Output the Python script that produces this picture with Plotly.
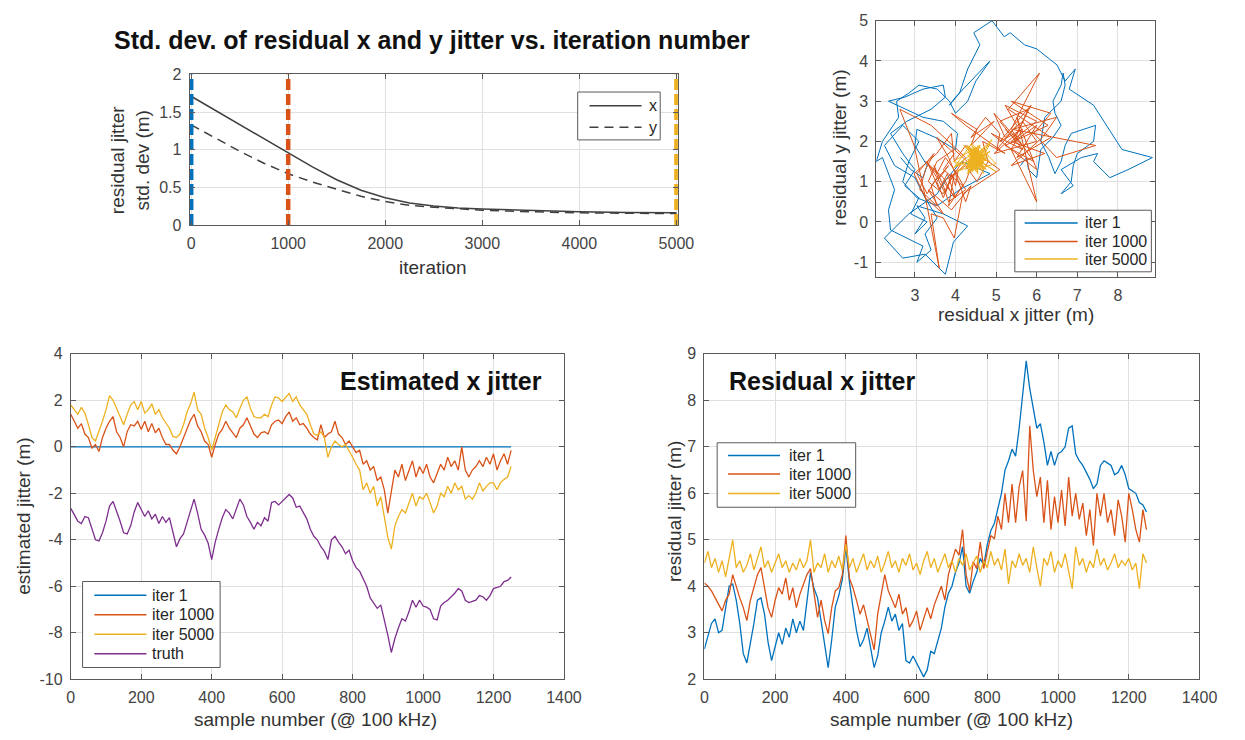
import plotly.graph_objects as go

# ---------------- data ----------------
# top-left: std. dev. of residual jitter vs iteration
iterations = [0, 250, 500, 750, 1000, 1250, 1500, 1750, 2000, 2250, 2500, 2750, 3000, 3500, 4000, 4500, 5000]
std_x = [1.71, 1.52, 1.34, 1.14, 0.95, 0.77, 0.60, 0.46, 0.36, 0.29, 0.25, 0.225, 0.21, 0.19, 0.175, 0.165, 0.16]
std_y = [1.33, 1.15, 0.98, 0.82, 0.68, 0.57, 0.47, 0.38, 0.31, 0.26, 0.235, 0.21, 0.195, 0.175, 0.16, 0.155, 0.15]
marker_iters = [1, 1000, 5000]

# bottom plots: sample index
samples = list(range(0, 1251, 10))

truth = [
    -2.65, -2.9, -3.2, -3.3, -3.0, -3.05, -3.5, -4.0, -4.05, -3.7,
    -3.2, -2.55, -2.35, -2.75, -3.2, -3.7, -3.75, -3.4, -2.8, -2.4,
    -2.7, -3.0, -2.75, -3.1, -2.9, -3.3, -3.0, -3.25, -3.05, -3.7,
    -4.3, -3.95, -3.75, -3.25, -2.7, -2.25, -2.85, -3.55, -3.8, -4.15,
    -4.85, -4.1, -3.55, -3.05, -2.7, -2.85, -3.1, -2.7, -2.25, -2.5,
    -3.0, -3.25, -3.55, -3.25, -3.4, -3.05, -3.2, -2.4, -2.35, -2.5,
    -2.35, -2.2, -2.05, -2.2, -2.6, -2.55, -2.85, -3.1, -3.55, -3.85,
    -4.0, -4.3, -4.5, -4.85, -4.0, -3.85, -4.1, -4.3, -4.6, -4.45,
    -4.9, -5.2, -5.35, -5.7, -6.0, -6.5, -6.7, -6.95, -6.8, -7.4,
    -8.1, -8.85, -8.25, -7.8, -7.4, -7.5, -7.1, -6.6, -6.9, -6.6,
    -6.85, -6.9, -7.0, -7.4, -7.45, -6.85, -6.7, -6.6, -6.45, -6.3,
    -6.1, -6.2, -6.6, -6.7, -6.65, -6.6, -6.4, -6.45, -6.6, -6.4,
    -6.1, -6.05, -6.0, -5.8, -5.75, -5.6]

est_iter1 = [0.0] * len(samples)

est_iter1000 = [
    1.4, 1.1, 0.8, 1.0, 0.55, 0.4, -0.05, 0.1, -0.2, 0.4,
    0.8, 1.1, 1.3, 0.65, 0.4, 0.0, 0.65, 0.95, 0.9, 1.1,
    0.75, 1.1, 0.65, 1.0, 0.6, 0.8, 0.4, 0.1, 0.1, -0.15,
    -0.3, 0.0, 0.4, 0.8, 1.15, 1.4, 0.9, 0.65, 0.25, 0.1,
    -0.45, 0.1, 0.55, 0.75, 1.1, 0.8, 0.6, 0.4, 0.8, 0.95,
    1.25, 0.9, 0.55, 0.4, 0.6, 0.65, 0.55, 0.95, 1.1, 1.15,
    1.0, 1.3, 1.5, 1.1, 1.25, 0.95, 1.0, 0.8, 0.55, 0.4,
    0.3, 0.95, 0.4, 0.55, 0.65, 1.1, 0.55, 0.4, 0.1, 0.25,
    0.0, -0.25, -0.15, -0.75, -0.6, -1.0, -0.85, -1.45, -1.3, -1.85,
    -2.85, -2.0, -1.0, -1.3, -0.75, -1.45, -1.0, -0.6, -1.3, -0.85,
    -1.15, -0.75, -1.3, -1.55, -1.15, -0.75, -1.0, -0.45, -0.85, -0.6,
    -1.0, 0.0, -1.0, -1.3, -1.0, -0.85, -0.6, -0.85, -0.45, -0.75,
    -0.3, -1.0, -0.6, -0.3, -0.75, -0.15]

est_iter5000 = [
    1.8, 1.6, 1.4, 1.7, 1.45, 0.95, 0.4, 0.25, 0.65, 1.1,
    1.6, 2.2, 2.0, 1.65, 1.25, 0.95, 1.4, 1.8, 1.95, 1.6,
    1.95, 1.45, 1.6, 1.85, 1.4, 1.6, 1.25, 1.0, 0.8, 0.45,
    0.4, 0.55, 0.95, 1.5, 1.85, 2.35, 1.6, 1.4, 0.8, 0.4,
    -0.15, 0.4, 0.95, 1.5, 1.8, 1.6, 1.5, 1.25, 1.65, 2.0,
    2.15, 1.65, 1.3, 1.25, 1.25, 1.4, 1.3, 1.8, 2.15, 2.1,
    1.95, 2.15, 2.3, 1.95, 2.15, 1.8, 1.6, 1.4, 0.95, 0.55,
    0.5, 0.65, 0.4, -0.45, 0.0, 0.25, 0.1, 0.0, 0.1, -0.15,
    -0.45, -0.75, -1.0, -1.85, -1.55, -2.0, -1.7, -2.55, -2.15, -3.0,
    -3.9, -4.4, -3.4, -3.0, -2.7, -2.85, -2.4, -2.0, -2.55, -2.15,
    -2.25, -2.0, -2.4, -2.85, -2.55, -2.0, -2.15, -1.7, -2.0, -1.55,
    -1.85, -1.7, -2.25, -2.1, -2.25, -2.0, -1.55, -1.9, -1.7, -1.55,
    -1.55, -1.85, -1.55, -1.4, -1.3, -0.85]

resid_x_iter1 = [
    2.65, 2.9, 3.2, 3.3, 3.0, 3.05, 3.5, 4.0, 4.05, 3.7,
    3.2, 2.55, 2.35, 2.75, 3.2, 3.7, 3.75, 3.4, 2.8, 2.4,
    2.7, 3.0, 2.75, 3.1, 2.9, 3.3, 3.0, 3.25, 3.05, 3.7,
    4.3, 3.95, 3.75, 3.25, 2.7, 2.25, 2.85, 3.55, 3.8, 4.15,
    4.85, 4.1, 3.55, 3.05, 2.7, 2.85, 3.1, 2.7, 2.25, 2.5,
    3.0, 3.25, 3.55, 3.25, 3.4, 3.05, 3.2, 2.4, 2.35, 2.5,
    2.35, 2.2, 2.05, 2.2, 2.6, 2.55, 2.85, 3.1, 3.55, 3.85,
    4.0, 4.3, 4.5, 4.85, 4.0, 3.85, 4.1, 4.3, 4.6, 4.45,
    4.9, 5.2, 5.35, 5.7, 6.0, 6.5, 6.7, 6.95, 6.8, 7.4,
    8.1, 8.85, 8.25, 7.8, 7.4, 7.5, 7.1, 6.6, 6.9, 6.6,
    6.85, 6.9, 7.0, 7.4, 7.45, 6.85, 6.7, 6.6, 6.45, 6.3,
    6.1, 6.2, 6.6, 6.7, 6.65, 6.6, 6.4, 6.45, 6.6, 6.4,
    6.1, 6.05, 6.0, 5.8, 5.75, 5.6]

resid_x_iter1000 = [
    4.07, 4.0, 3.9, 3.75, 3.6, 3.47, 3.7, 3.83, 4.25, 3.97,
    3.75, 3.54, 3.26, 3.7, 3.97, 4.25, 4.4, 3.97, 3.54, 3.33,
    3.7, 3.97, 3.83, 4.18, 3.7, 3.97, 3.54, 3.83, 4.04, 4.25,
    4.38, 3.9, 3.33, 3.7, 3.26, 2.98, 3.54, 3.9, 3.97, 4.25,
    5.09, 4.18, 3.97, 3.7, 3.4, 3.6, 3.26, 2.98, 2.63, 3.4,
    3.83, 4.25, 3.9, 3.7, 3.54, 3.83, 3.4, 3.54, 3.12, 3.26,
    3.47, 3.05, 3.3, 3.54, 3.3, 3.6, 3.8, 4.0, 3.7, 4.25,
    4.53, 4.8, 4.67, 5.22, 4.25, 3.9, 4.53, 4.38, 4.95, 4.38,
    4.74, 5.09, 5.02, 5.51, 5.22, 6.0, 5.37, 6.2, 5.37, 6.14,
    6.49, 5.4, 7.45, 6.49, 5.93, 6.35, 5.37, 6.28, 5.22, 5.93,
    5.37, 6.07, 5.3, 6.35, 5.51, 6.0, 5.44, 5.79, 5.09, 5.65,
    4.88, 6.0, 5.51, 6.0, 5.37, 5.65, 5.09, 5.86, 5.51, 4.95,
    6.0, 5.65, 5.22, 4.95, 5.65, 5.22]

resid_x_iter5000 = [
    4.5, 4.75, 4.4, 4.6, 4.3, 4.55, 4.2, 4.6, 5.0, 4.4,
    4.55, 4.3, 4.45, 4.7, 4.35, 4.6, 4.85, 4.4, 4.55, 4.3,
    4.5, 4.7, 4.4, 4.55, 4.3, 4.5, 4.35, 4.6, 4.4, 4.55,
    5.0, 4.3, 4.5, 4.4, 4.7, 4.3, 4.55, 4.4, 4.65, 4.35,
    4.9, 4.4, 4.6, 4.3, 4.5, 4.7, 4.35, 4.55, 4.4, 4.65,
    4.3, 4.5, 4.75, 4.4, 4.55, 4.3, 4.6, 4.45, 4.7, 4.35,
    4.5, 4.25, 4.55, 4.75, 4.4, 4.6, 4.3, 4.5, 4.7, 4.4,
    4.55, 4.3, 4.6, 4.45, 4.7, 4.35, 4.5, 4.65, 4.3, 4.55,
    4.4, 4.75, 4.45, 4.6, 4.35, 4.8, 4.05, 4.55, 4.4, 4.7,
    4.45, 4.6, 4.3, 4.85, 4.4, 4.0, 4.6, 4.45, 4.75, 4.3,
    4.55, 4.4, 4.7, 4.35, 3.95, 4.85, 4.45, 4.6, 4.3, 4.55,
    4.4, 4.8, 4.45, 4.6, 4.35, 4.5, 4.7, 4.4, 4.55, 4.45,
    4.6, 4.35, 4.5, 3.95, 4.7, 4.5]

resid_y_iter1 = [
    1.6, 1.3, 1.1, 1.4, 1.9, 2.3, 2.1, 1.8, 2.2, 2.5,
    2.6, 2.9, 3.0, 3.1, 3.3, 3.4, 3.1, 2.8, 2.5, 2.2,
    1.7, 1.3, 0.9, 0.6, 0.2, 0.0, -0.3, 0.1, 0.4, 0.2,
    -0.1, -0.5, -1.3, -0.8, -0.9, -0.4, 0.2, 0.7, 1.1, 1.5,
    1.2, 0.8, 0.4, 0.6, 1.0, 1.5, 2.0, 2.4, 1.9, 1.4,
    1.1, 0.6, 0.1, -0.3, -0.7, -1.0, -0.6, -0.2, 0.3, 0.8,
    1.2, 1.6, 1.5, 2.0, 2.6, 3.0, 3.2, 3.4, 3.3, 3.0,
    2.7, 3.0, 3.5, 4.0, 3.1, 2.9, 3.2, 3.8, 4.4, 4.7,
    5.0, 4.6, 4.7, 4.4, 4.3, 3.9, 3.5, 3.8, 3.3, 2.9,
    1.8, 1.6, 1.3, 1.1, 1.5, 1.7, 1.6, 1.3, 0.9, 0.7,
    1.0, 1.4, 1.7, 2.0, 2.4, 2.2, 1.9, 1.5, 1.2, 1.6,
    2.0, 2.6, 3.0, 3.4, 3.7, 3.4, 3.0, 2.7, 2.4, 2.1,
    1.8, 1.4, 1.1, 1.3, 1.6, 1.4]

resid_y_iter1000 = [
    1.3, 0.9, 1.2, 0.7, 1.0, 1.4, 0.9, 0.5, 0.8, 1.3,
    1.6, 1.2, 1.5, 1.1, 0.6, 1.0, 1.4, 1.8, 1.5, 1.0,
    0.7, 1.2, 0.4, 0.9, 1.3, 1.7, 2.1, 1.6, 1.1, 0.5,
    0.9, 0.3, 0.8, 0.2, 0.6, 1.2, 1.7, 2.2, 1.5, 1.9,
    1.3, 0.7, -0.4, 0.1, 0.2, -1.15, 0.6, 1.9, 2.8, 2.4,
    2.0, 1.6, 1.1, 0.6, 1.0, 1.4, 0.9, 0.4, 0.8, 1.3,
    1.7, 1.2, 0.7, 1.1, 1.5, 0.8, 1.2, 0.6, 1.0, 1.4,
    1.0, 1.5, 2.0, 1.7, 2.4, 2.7, 2.3, 1.9, 2.5, 2.1,
    2.6, 2.2, 1.8, 2.4, 2.9, 2.5, 2.0, 1.7, 1.4, 2.1,
    2.6, 2.3, 1.9, 1.6, 2.2, 2.7, 3.0, 2.4, 1.9, 1.5,
    2.3, 3.7, 2.8, 2.1, 1.6, 2.4, 2.0, 2.8, 2.5, 1.8,
    2.2, 1.3, 2.6, 0.5, 1.8, 2.3, 2.0, 2.9, 2.2, 1.7,
    2.0, 2.5, 2.1, 2.7, 1.9, 2.3]

resid_y_iter5000 = [
    1.6, 1.3, 1.8, 1.45, 1.2, 1.7, 1.9, 1.5, 1.25, 1.65,
    1.4, 1.85, 1.55, 1.3, 1.7, 1.45, 1.95, 1.6, 1.35, 1.75,
    1.5, 1.2, 1.65, 1.85, 1.4, 1.6, 1.3, 1.75, 1.5, 1.9,
    1.45, 1.25, 1.7, 1.55, 1.35, 1.8, 1.6, 1.4, 1.7, 1.5,
    2.05, 1.3, 1.65, 1.45, 1.85, 1.55, 1.25, 1.7, 1.4, 1.6,
    1.9, 1.35, 1.55, 1.75, 1.45, 1.2, 1.65, 1.5, 1.8, 1.4,
    1.6, 1.3, 1.75, 1.55, 1.9, 1.45, 1.35, 1.7, 1.5, 1.25,
    1.65, 1.85, 1.4, 1.6, 1.75, 1.3, 1.55, 1.8, 1.45, 1.65,
    1.35, 1.7, 1.5, 1.9, 1.4, 1.6, 1.25, 1.75, 1.55, 1.45,
    1.85, 1.3, 1.65, 1.5, 1.95, 1.4, 1.6, 1.35, 1.7, 1.55,
    1.2, 1.8, 1.45, 1.65, 1.35, 1.75, 1.5, 1.9, 1.4, 1.6,
    1.3, 1.7, 1.55, 1.45, 1.8, 1.35, 1.65, 1.5, 1.25, 1.75,
    1.6, 1.4, 1.85, 1.5, 1.3, 1.6]

# tick values
ticks_est = [-10, -8, -6, -4, -2, 0, 2, 4]
ticks_resy = [-1, 0, 1, 2, 3, 4, 5]

# ---------------- style ----------------
BLUE, ORANGE, YELLOW, PURPLE = "#0072BD", "#D95319", "#EDB120", "#7E2F8E"
DARK = "#404040"
FONT = "Liberation Sans, Arial, Helvetica, sans-serif"
W, H = 1245, 740

fig = go.Figure()

bl_series = [("iter 1", est_iter1, BLUE), ("iter 1000", est_iter1000, ORANGE),
             ("iter 5000", est_iter5000, YELLOW), ("truth", truth, PURPLE)]
br_series = [("iter 1", resid_x_iter1, BLUE), ("iter 1000", resid_x_iter1000, ORANGE),
             ("iter 5000", resid_x_iter5000, YELLOW)]
tr_series = [("iter 1", resid_x_iter1, resid_y_iter1, BLUE),
             ("iter 1000", resid_x_iter1000, resid_y_iter1000, ORANGE),
             ("iter 5000", resid_x_iter5000, resid_y_iter5000, YELLOW)]

for name, ys, col in bl_series:
    fig.add_trace(go.Scatter(x=samples, y=ys, mode="lines", name=name,
                             line=dict(color=col, width=1.3), xaxis="x", yaxis="y"))
for name, ys, col in br_series:
    fig.add_trace(go.Scatter(x=samples, y=ys, mode="lines", name=name,
                             line=dict(color=col, width=1.3), xaxis="x2", yaxis="y2"))

fig.add_trace(go.Scatter(x=iterations, y=std_x, mode="lines", name="x",
                         line=dict(color=DARK, width=1.5), xaxis="x3", yaxis="y3"))
fig.add_trace(go.Scatter(x=iterations, y=std_y, mode="lines", name="y",
                         line=dict(color=DARK, width=1.5, dash="9px,6px"), xaxis="x3", yaxis="y3"))
for it, col in zip(marker_iters, [BLUE, ORANGE, YELLOW]):
    fig.add_trace(go.Scatter(x=[it, it], y=[0, 2], mode="lines",
                             line=dict(color=col, width=4.5, dash="11px,4px"),
                             xaxis="x3", yaxis="y3", hoverinfo="skip"))

for name, xs, ys, col in tr_series:
    fig.add_trace(go.Scatter(x=xs, y=ys, mode="lines", name=name,
                             line=dict(color=col, width=1.0), xaxis="x4", yaxis="y4"))


def axis(domain, rng, dtick, anchor, tickvals=None):
    d = dict(domain=domain, range=rng, dtick=dtick, tick0=0, anchor=anchor,
             showline=True, linecolor="#5a5a5a", linewidth=1, mirror="ticks",
             ticks="inside", ticklen=5, tickcolor="#5a5a5a", ticklabelstandoff=4,
             showgrid=True, gridcolor="#e0e0e0", gridwidth=1, zeroline=False,
             tickfont=dict(family=FONT, size=16, color="#444"))
    if tickvals is not None:
        d.update(tickmode="array", tickvals=tickvals, ticktext=[str(v) for v in tickvals])
    return d


def px_x(p):
    return p / W


def px_y(p):
    return 1 - p / H


fig.update_layout(
    width=W, height=H, autosize=False,
    margin=dict(l=0, r=0, t=0, b=0),
    paper_bgcolor="white", plot_bgcolor="white",
    font=dict(family=FONT, color="#262626"),
    showlegend=False,
    xaxis=axis([px_x(68), px_x(570)], [0, 1400], 200, "y"),
    yaxis=axis([px_y(687), px_y(354)], [-10, 4], 2, "x", ticks_est),
    xaxis2=axis([px_x(713), px_x(1217)], [0, 1400], 200, "y2"),
    yaxis2=axis([px_y(687), px_y(354)], [2, 9], 1, "x2"),
    xaxis3=axis([px_x(189), px_x(686)], [-15, 5015], 1000, "y3"),
    yaxis3=axis([px_y(222), px_y(68)], [0, 2], 0.5, "x3"),
    xaxis4=axis([px_x(888), px_x(1172)], [2.05, 8.92], 1, "y4"),
    yaxis4=axis([px_y(275), px_y(13)], [-1.36, 5], 1, "x4", ticks_resy),
)

shapes = []
ann = []


def add_text(x, y, text, size, bold=False, angle=0, anchor="center", color=None):
    ann.append(dict(x=px_x(x), y=px_y(y), xref="paper", yref="paper", text=text,
                    showarrow=False, xanchor=anchor, yanchor="middle", textangle=angle,
                    font=dict(family=FONT, size=size,
                              color=color or ("#111" if bold else "#333"))))


def legend_box(x0, y0, x1, y1, rows, line_x0, line_x1, text_x, entries):
    shapes.append(dict(type="rect", xref="paper", yref="paper",
                       x0=px_x(x0), x1=px_x(x1), y0=px_y(y1), y1=px_y(y0),
                       line=dict(color="#5a5a5a", width=1), fillcolor="white", layer="above"))
    for yy, (name, col, dash) in zip(rows, entries):
        shapes.append(dict(type="line", xref="paper", yref="paper",
                           x0=px_x(line_x0), x1=px_x(line_x1), y0=px_y(yy), y1=px_y(yy),
                           line=dict(color=col, width=1.5, dash=dash), layer="above"))
        add_text(text_x, yy, name, 16, anchor="left", color="#262626")


legend_box(80, 587, 220, 675, [601, 621, 641, 661], 92, 145, 149,
           [(n, c, "solid") for n, _, c in bl_series])
legend_box(726, 445, 867, 511, [458, 477, 497], 737, 790, 797,
           [(n, c, "solid") for n, _, c in br_series])
legend_box(1029, 207, 1168, 270, [220, 239, 257], 1039, 1093, 1098,
           [(n, c, "solid") for n, _, _, c in tr_series])
legend_box(584, 86, 668, 135, [100, 122], 596, 649, 655,
           [("x", DARK, "solid"), ("y", DARK, "9px,6px")])

add_text(436, 33, "<b>Std. dev. of residual x and y jitter vs. iteration number</b>", 25, True)
add_text(445, 382, "<b>Estimated x jitter</b>", 25, True)
add_text(833, 382, "<b>Residual x jitter</b>", 25, True)
add_text(437, 266, "iteration", 19)
add_text(129, 156, "residual jitter<br>std. dev (m)", 19, angle=-90)
add_text(851, 143, "residual y jitter (m)", 19, angle=-90)
add_text(1030, 314, "residual x jitter (m)", 19)
add_text(19, 520, "estimated jitter (m)", 19, angle=-90)
add_text(317, 728, "sample number (@ 100 kHz)", 19)
add_text(682, 515, "residual jitter (m)", 19, angle=-90)
add_text(965, 728, "sample number (@ 100 kHz)", 19)
fig.update_layout(annotations=ann, shapes=shapes)

fig.write_html("out.html")
